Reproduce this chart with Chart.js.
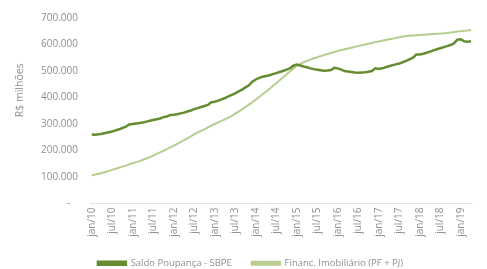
<!DOCTYPE html>
<html>
<head>
<meta charset="utf-8">
<script src="https://cdn.jsdelivr.net/npm/chart.js@4"></script>
<style>
  html, body { margin: 0; padding: 0; background: #fff; }
  #wrap { width: 487px; height: 269px; }
</style>
</head>
<body>
<div id="wrap"><canvas id="chart" width="487" height="269"></canvas></div>
<script>
// monthly, jan/10 .. abr/19, values in R$ thousand milhões (axis shows 100.000 steps)
var months = ['jan', 'fev', 'mar', 'abr', 'mai', 'jun', 'jul', 'ago', 'set', 'out', 'nov', 'dez'];
var years = ['10', '11', '12', '13', '14', '15', '16', '17', '18', '19'];

var poupanca = [
    260, 259, 261, 263, 266, 269, 272, 276, 280, 285, 290, 298,
    300, 302, 304, 306, 309, 312, 315, 318, 321, 326, 328, 334,
    335, 337, 340, 343, 347, 351, 356, 360, 364, 368, 372, 382,
    384, 388, 393, 398, 404, 410, 416, 423, 430, 438, 446, 460,
    468, 474, 478, 481, 484, 488, 492, 496, 500, 505, 510, 520,
    524, 521, 517, 514, 510, 507, 505, 503, 501, 502, 504, 512,
    510, 505, 500, 498, 496, 494, 493, 494, 495, 497, 500, 510,
    508, 510, 514, 518, 522, 525, 528, 533, 538, 544, 550, 562,
    562, 565, 569, 573, 578, 582, 586, 590, 594, 598, 604, 618,
    620, 612, 610, 612
];

var financ = [
    106, 109, 112, 115, 119, 123, 127, 131, 135, 139, 143, 148,
    152, 156, 160, 165, 170, 175, 181, 187, 193, 199, 205, 212,
    218, 225, 232, 239, 246, 253, 262, 268, 274, 280, 287, 294,
    300, 306, 312, 318, 324, 331, 339, 347, 355, 364, 373, 382,
    392, 402, 412, 422, 432, 443, 454, 465, 476, 487, 498, 509,
    520, 527, 533, 538, 543, 548, 552, 556, 560, 564, 568, 572,
    575, 579, 582, 585, 588, 591, 594, 597, 600, 603, 606, 609,
    611, 614, 617, 620, 622, 625, 627, 630, 632, 633, 634, 635,
    636, 637, 638, 639, 640, 641, 641, 642, 643, 645, 647, 649,
    650, 652, 653, 655
];

var yTickLabels = ['-   ', '100.000', '200.000', '300.000', '400.000', '500.000', '600.000', '700.000'];

// build month labels like "jan/10"
var labels = [];
years.forEach(function (y) {
    months.forEach(function (m) {
        if (labels.length < poupanca.length) labels.push(m + '/' + y);
    });
});

var grey = '#8f8f8f';

var ctx = document.getElementById('chart').getContext('2d');
var chart = new Chart(ctx, {
    type: 'line',
    data: {
        labels: labels,
        datasets: [{
            label: 'Saldo Poupança - SBPE',
            data: poupanca,
            borderColor: '#668c32',
            backgroundColor: '#668c32',
            borderWidth: 2.5,
            pointRadius: 0,
            tension: 0
        }, {
            label: 'Financ. Imobiliário (PF + PJ)',
            data: financ,
            borderColor: '#b6cd8e',
            backgroundColor: '#b6cd8e',
            borderWidth: 2,
            pointRadius: 0,
            tension: 0
        }]
    },
    options: {
        responsive: false,
        animation: false,
        // negative bottom padding pushes the legend down near the edge
        layout: { padding: { top: 10, right: 0, left: 14, bottom: -9 } },
        scales: {
            x: {
                offset: true,
                grid: { display: false, drawTicks: false },
                border: { display: true, color: '#e4e4e4' },
                ticks: {
                    autoSkip: false,
                    maxRotation: 90,
                    minRotation: 90,
                    color: grey,
                    padding: 4,
                    font: { family: 'Open Sans', size: 10 },
                    callback: function (value, index) {
                        return index % 6 === 0 ? labels[index] : '';
                    }
                },
                afterFit: function (axis) { axis.height = 35; }
            },
            y: {
                min: 0,
                max: 700,
                grid: { display: false, drawTicks: false },
                border: { display: false },
                ticks: {
                    stepSize: 100,
                    color: grey,
                    padding: 12,
                    font: { family: 'Open Sans', size: 10 },
                    callback: function (value) {
                        return yTickLabels[Math.round(value / 100)];
                    }
                },
                title: {
                    display: true,
                    text: '               R$ milhões',
                    color: grey,
                    padding: { top: 0, bottom: 4 },
                    font: { family: 'Open Sans', size: 10.5 }
                },
                afterFit: function (axis) { axis.width = 76; }
            }
        },
        plugins: {
            legend: {
                display: true,
                position: 'bottom',
                labels: {
                    color: grey,
                    boxWidth: 28,
                    boxHeight: 3,
                    padding: 20,
                    font: { family: 'Open Sans', size: 9.5 }
                }
            },
            tooltip: { enabled: false }
        }
    }
});
</script>
</body>
</html>
